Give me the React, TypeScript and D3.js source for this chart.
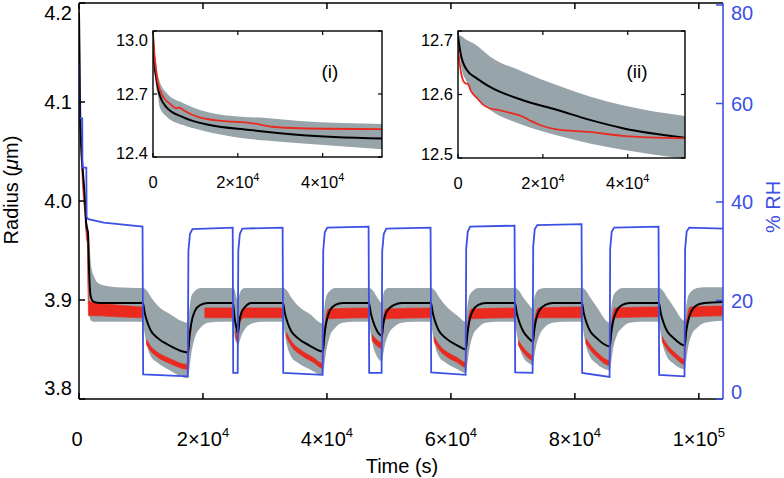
import React from "react";
import * as d3 from "d3";

// ---------- data ----------
// Time in s, radius in µm, RH in %
const rhTrace: [number, number][] = [
  [0, 68], [40, 68], [60, 57], [520, 57], [560, 47], [1180, 47], [1230, 37], [1500, 36.5], [4000, 35.8], [10250, 35],
  [10350, 5], [17550, 4.6],
  [17650, 30], [17900, 33.5], [18300, 34.5], [24800, 34.8],
  [24880, 5.3], [25600, 5.3],
  [25700, 30], [25950, 33.5], [26350, 34.6], [32850, 34.8],
  [32950, 5.3], [39300, 4.9],
  [39400, 30], [39650, 33.8], [40050, 34.8], [46720, 35],
  [46820, 5.3], [48820, 5.3],
  [48920, 30], [49170, 33.5], [49570, 34.6], [56720, 34.8],
  [56820, 5.4], [62370, 4.9],
  [62470, 30.5], [62720, 34], [63120, 35], [70270, 35.2],
  [70370, 5.4], [73180, 5.3],
  [73280, 31], [73530, 34.5], [73930, 35.3], [81080, 35.5],
  [81180, 5.3], [85600, 4.5],
  [85700, 30.5], [85950, 34], [86350, 34.8], [93500, 35],
  [93600, 4.9], [97690, 4.6],
  [97790, 30.5], [98040, 34], [98440, 34.8], [103900, 34.6],
];

const modelRadius: [number, number][] = [
  [0, 4.19], [80, 4.15], [160, 4.1], [400, 4.05], [650, 4.028], [970, 4.0], [1150, 3.978], [1300, 3.972], [1450, 3.968],
  [1600, 3.935], [1750, 3.912], [1950, 3.902], [2400, 3.898], [3400, 3.897], [10300, 3.897],
  [10600, 3.887], [11000, 3.878], [11600, 3.869], [12600, 3.862], [14600, 3.854], [17600, 3.847],
  [17800, 3.862], [18100, 3.876], [18700, 3.889], [19600, 3.895], [20800, 3.897], [24840, 3.897],
  [25100, 3.882], [25400, 3.872], [25650, 3.866], [25850, 3.878], [26200, 3.887], [26800, 3.893], [27800, 3.897], [32900, 3.897],
  [33200, 3.887], [33600, 3.878], [34200, 3.869], [35200, 3.862], [37200, 3.854], [39350, 3.848],
  [39550, 3.862], [39850, 3.876], [40450, 3.889], [41350, 3.895], [42550, 3.897], [46770, 3.897],
  [47070, 3.887], [47470, 3.878], [48070, 3.869], [48870, 3.864],
  [49070, 3.875], [49370, 3.884], [49970, 3.891], [50870, 3.895], [52070, 3.897], [56770, 3.897],
  [57070, 3.887], [57470, 3.878], [58070, 3.869], [59070, 3.862], [61070, 3.854], [62420, 3.85],
  [62620, 3.863], [62920, 3.877], [63520, 3.889], [64420, 3.895], [65620, 3.897], [70320, 3.897],
  [70620, 3.887], [71020, 3.878], [71620, 3.869], [72620, 3.861], [73230, 3.858],
  [73430, 3.869], [73730, 3.88], [74330, 3.89], [75230, 3.895], [76430, 3.897], [81130, 3.897],
  [81430, 3.887], [81830, 3.878], [82430, 3.869], [83430, 3.862], [85650, 3.853],
  [85850, 3.866], [86150, 3.878], [86750, 3.889], [87650, 3.895], [88850, 3.897], [93550, 3.897],
  [93850, 3.887], [94250, 3.878], [94850, 3.869], [95850, 3.862], [97740, 3.854],
  [97940, 3.867], [98240, 3.878], [98840, 3.889], [99740, 3.895], [100940, 3.897], [103900, 3.898],
];

// [time, lower, upper]
const modelBand: [number, number, number][] = [
  [0, 4.185, 4.195], [160, 4.095, 4.105], [400, 4.045, 4.055], [650, 4.02, 4.035], [970, 3.99, 4.005],
  [1150, 3.968, 3.985], [1300, 3.962, 3.978], [1450, 3.955, 3.975], [1600, 3.9, 3.965], [1750, 3.882, 3.95],
  [1950, 3.879, 3.935], [2400, 3.878, 3.924], [3400, 3.878, 3.916], [6000, 3.878, 3.913], [10300, 3.878, 3.912],
  [10600, 3.866, 3.9115], [11000, 3.853, 3.909], [11600, 3.843, 3.903], [12600, 3.837, 3.895], [14600, 3.829, 3.886], [17600, 3.821, 3.877],
  [17800, 3.83, 3.89], [18100, 3.845, 3.903], [18700, 3.862, 3.909], [19600, 3.872, 3.912], [20800, 3.877, 3.912], [22600, 3.878, 3.912], [24840, 3.878, 3.912],
  [25100, 3.863, 3.9105], [25400, 3.857, 3.903], [25650, 3.853, 3.899], [25850, 3.857, 3.905], [26200, 3.864, 3.91], [26800, 3.871, 3.912], [27800, 3.876, 3.912], [29500, 3.878, 3.912], [32900, 3.878, 3.912],
  [33200, 3.866, 3.9115], [33600, 3.853, 3.909], [34200, 3.843, 3.903], [35200, 3.837, 3.895], [37200, 3.83, 3.886], [39350, 3.824, 3.876],
  [39550, 3.833, 3.89], [39850, 3.847, 3.903], [40450, 3.863, 3.909], [41350, 3.872, 3.912], [42550, 3.877, 3.912], [44300, 3.878, 3.912], [46770, 3.878, 3.912],
  [47070, 3.866, 3.9115], [47470, 3.853, 3.909], [48070, 3.843, 3.903], [48870, 3.838, 3.897],
  [49070, 3.845, 3.905], [49370, 3.855, 3.91], [49970, 3.866, 3.912], [50870, 3.873, 3.912], [52070, 3.877, 3.912], [53800, 3.878, 3.912], [56770, 3.878, 3.912],
  [57070, 3.866, 3.9115], [57470, 3.853, 3.909], [58070, 3.843, 3.903], [59070, 3.837, 3.895], [61070, 3.83, 3.884], [62420, 3.826, 3.878],
  [62620, 3.834, 3.891], [62920, 3.848, 3.903], [63520, 3.864, 3.909], [64420, 3.872, 3.912], [65620, 3.877, 3.912], [67400, 3.878, 3.912], [70320, 3.878, 3.912],
  [70620, 3.866, 3.9115], [71020, 3.853, 3.909], [71620, 3.843, 3.903], [72620, 3.836, 3.895], [73230, 3.834, 3.891],
  [73430, 3.842, 3.901], [73730, 3.853, 3.907], [74330, 3.865, 3.911], [75230, 3.873, 3.912], [76430, 3.877, 3.912], [78200, 3.878, 3.912], [81130, 3.878, 3.912],
  [81430, 3.866, 3.9115], [81830, 3.853, 3.909], [82430, 3.843, 3.903], [83430, 3.836, 3.894], [85650, 3.829, 3.877],
  [85850, 3.837, 3.891], [86150, 3.85, 3.903], [86750, 3.864, 3.909], [87650, 3.872, 3.912], [88850, 3.877, 3.912], [90600, 3.878, 3.912], [93550, 3.878, 3.912],
  [93850, 3.866, 3.9115], [94250, 3.853, 3.909], [94850, 3.843, 3.903], [95850, 3.836, 3.894], [97740, 3.83, 3.879],
  [97940, 3.838, 3.892], [98240, 3.851, 3.903], [98840, 3.865, 3.909], [99740, 3.872, 3.912], [100940, 3.877, 3.913], [103900, 3.879, 3.913],
];

// measured radius, drawn as the spread of the noisy points: [time, low, high]; null = gap
const measuredBand: ([number, number, number] | null)[] = [
  [0, 4.182, 4.195], [160, 4.092, 4.1], [400, 4.038, 4.048], [650, 4.008, 4.018], [970, 3.984, 3.993], [1200, 3.962, 3.97],
  [1350, 3.956, 3.964], [1450, 3.912, 3.935], [1550, 3.884, 3.899], [3000, 3.884, 3.897], [6000, 3.883, 3.895], [10200, 3.882, 3.893],
  null,
  [10900, 3.855, 3.86], [11600, 3.848, 3.853], [12500, 3.843, 3.848], [14600, 3.836, 3.841], [17500, 3.83, 3.835],
  [17650, 3.842, 3.849], [17900, 3.861, 3.867], [18100, 3.869, 3.874],
  null,
  [20300, 3.882, 3.892], [24700, 3.882, 3.892],
  null,
  [25250, 3.863, 3.869], [25600, 3.857, 3.863], [25800, 3.869, 3.877], [26100, 3.879, 3.887], [26600, 3.882, 3.892], [32800, 3.882, 3.892],
  null,
  [33500, 3.862, 3.867], [34300, 3.853, 3.858], [35900, 3.844, 3.849], [37800, 3.837, 3.842], [39300, 3.831, 3.836],
  [39500, 3.851, 3.86], [39800, 3.871, 3.881], [40200, 3.881, 3.891], [46700, 3.882, 3.892],
  null,
  [47300, 3.859, 3.865], [48200, 3.853, 3.859], [48800, 3.851, 3.857],
  [49100, 3.871, 3.881], [49500, 3.881, 3.891], [56700, 3.882, 3.892],
  null,
  [57300, 3.858, 3.863], [58200, 3.849, 3.854], [59500, 3.842, 3.847], [61000, 3.837, 3.842], [62350, 3.832, 3.837],
  [62550, 3.853, 3.862], [62850, 3.873, 3.882], [63300, 3.881, 3.891], [70250, 3.882, 3.892],
  null,
  [70900, 3.854, 3.859], [71800, 3.846, 3.851], [72600, 3.841, 3.846], [73150, 3.839, 3.844],
  [73350, 3.859, 3.868], [73650, 3.876, 3.885], [74100, 3.882, 3.892], [81050, 3.882, 3.893],
  null,
  [81800, 3.856, 3.861], [82700, 3.848, 3.853], [83800, 3.841, 3.846], [85550, 3.834, 3.839],
  [85750, 3.854, 3.863], [86050, 3.874, 3.883], [86500, 3.882, 3.892], [93450, 3.883, 3.893],
  null,
  [94100, 3.858, 3.863], [95000, 3.849, 3.854], [96300, 3.841, 3.846], [97650, 3.835, 3.84],
  [97850, 3.856, 3.865], [98150, 3.875, 3.884], [98600, 3.883, 3.893], [103800, 3.884, 3.894],
];

// Inset (i)
const insetOneModel: [number, number][] = [
  [0, 12.98], [350, 12.84], [780, 12.775], [1570, 12.695], [3140, 12.638], [7060, 12.59],
  [13400, 12.552], [22800, 12.529], [34600, 12.505], [54000, 12.488],
];
const insetOneMeasured: [number, number][] = [
  [0, 12.97], [470, 12.86], [1200, 12.75], [2300, 12.69], [3900, 12.655], [5600, 12.632], [6300, 12.635],
  [7100, 12.624], [11060, 12.588], [18800, 12.568], [22700, 12.563], [28240, 12.544], [34600, 12.537], [54000, 12.533],
];
const insetOneBand: [number, number, number][] = [
  [0, 12.98, 12.98], [470, 12.782, 12.89], [1250, 12.68, 12.782], [1570, 12.638, 12.76], [3220, 12.592, 12.705],
  [7060, 12.552, 12.657], [11060, 12.529, 12.624], [18800, 12.497, 12.595], [26670, 12.478, 12.586],
  [34600, 12.465, 12.571], [54000, 12.437, 12.557],
];

// Inset (ii)
const insetTwoModel: [number, number][] = [
  [0, 12.692], [600, 12.665], [2040, 12.639], [4500, 12.625], [7530, 12.612], [15300, 12.591],
  [23220, 12.576], [31060, 12.56], [38830, 12.547], [53500, 12.532],
];
const insetTwoMeasured: [number, number][] = [
  [0, 12.672], [700, 12.635], [1600, 12.618], [2400, 12.616], [3000, 12.606], [4400, 12.595], [5900, 12.584],
  [7530, 12.578], [9100, 12.576], [12300, 12.571], [15300, 12.565], [17300, 12.558], [19300, 12.552],
  [23200, 12.545], [31000, 12.541], [38800, 12.535], [53500, 12.531],
];
const insetTwoBand: [number, number, number][] = [
  [0, 12.69, 12.695], [800, 12.642, 12.692], [2040, 12.62, 12.686], [3530, 12.6, 12.681], [4400, 12.594, 12.677],
  [7530, 12.576, 12.66], [15300, 12.552, 12.636], [23220, 12.536, 12.615], [31060, 12.523, 12.597],
  [38830, 12.513, 12.583], [53500, 12.499, 12.566],
];

// Ticks
const timeTicks = [0, 20000, 40000, 60000, 80000, 100000];
const timeTickBase = ["0", "2×10", "4×10", "6×10", "8×10", "1×10"];
const timeTickExp = ["", "4", "4", "4", "4", "5"];
const radiusTicks = [3.8, 3.9, 4.0, 4.1, 4.2];
const rhTicks = [0, 20, 40, 60, 80];
const insetTimeTicks = [0, 20000, 40000];
const insetTimeBase = ["0", "2×10", "4×10"];
const insetTimeExp = ["", "4", "4"];
const insetOneTicks = [12.4, 12.7, 13.0];
const insetTwoTicks = [12.5, 12.6, 12.7];

// ---------- styles ----------
const FONT = "'Liberation Sans', Arial, Helvetica, sans-serif";
const BLUE = "#3d50e4";
const RED = "#ea2a1f";
const GRAY = "#97a5aa";

type InsetProps = {
  x0: number; x1: number; yTop: number; yBot: number; tMax: number; rDomain: [number, number];
  yTicks: number[]; model: [number, number][]; measured: [number, number][]; band: [number, number, number][];
  tag: string; tagX: number; id: string;
};

function Inset(p: InsetProps) {
  const sx = d3.scaleLinear().domain([0, p.tMax]).range([p.x0, p.x1]);
  const sy = d3.scaleLinear().domain(p.rDomain).range([p.yBot, p.yTop]);
  const area = d3.area<[number, number, number]>().x((d) => sx(d[0])).y0((d) => sy(d[1])).y1((d) => sy(d[2])).curve(d3.curveMonotoneX);
  const line = d3.line<[number, number]>().x((d) => sx(d[0])).y((d) => sy(d[1])).curve(d3.curveMonotoneX);
  return (
    <g>
      <rect x={p.x0} y={p.yTop} width={p.x1 - p.x0} height={p.yBot - p.yTop} fill="#fff" />
      <clipPath id={p.id}>
        <rect x={p.x0} y={p.yTop} width={p.x1 - p.x0} height={p.yBot - p.yTop} />
      </clipPath>
      <g clipPath={`url(#${p.id})`}>
        <path d={area(p.band) || ""} fill={GRAY} />
        <path d={line(p.model) || ""} fill="none" stroke="#000" strokeWidth={2} />
        <path d={line(p.measured) || ""} fill="none" stroke={RED} strokeWidth={1.8} />
      </g>
      <rect x={p.x0} y={p.yTop} width={p.x1 - p.x0} height={p.yBot - p.yTop} fill="none" stroke="#000" strokeWidth={1.4} />
      {insetTimeTicks.map((t, i) => (
        <g key={"xt" + i}>
          <line x1={sx(t)} x2={sx(t)} y1={p.yBot} y2={p.yBot - 4} stroke="#000" strokeWidth={1.2} />
          <line x1={sx(t)} x2={sx(t)} y1={p.yTop} y2={p.yTop + 4} stroke="#000" strokeWidth={1.2} />
          <text x={sx(t)} y={p.yBot + 31} textAnchor="middle" fontSize={16.5} fontFamily={FONT}>
            {insetTimeBase[i]}
            {insetTimeExp[i] && <tspan dy={-7} fontSize={11}>{insetTimeExp[i]}</tspan>}
          </text>
        </g>
      ))}
      {p.yTicks.map((v, i) => (
        <g key={"yt" + i}>
          <line x1={p.x0} x2={p.x0 + 4} y1={sy(v)} y2={sy(v)} stroke="#000" strokeWidth={1.2} />
          <line x1={p.x1} x2={p.x1 - 4} y1={sy(v)} y2={sy(v)} stroke="#000" strokeWidth={1.2} />
          <text x={p.x0 - 5} y={Math.min(Math.max(sy(v), p.yTop + 9), p.yBot - 4)} dy="0.35em" textAnchor="end" fontSize={16.5} fontFamily={FONT}>
            {v.toFixed(1)}
          </text>
        </g>
      ))}
      <text x={p.tagX} y={p.yTop + 47} textAnchor="middle" fontSize={19} fontFamily={FONT}>{p.tag}</text>
    </g>
  );
}

export default function App() {
  const L = 79, R = 723, T = 3, B = 399;
  const x = d3.scaleLinear().domain([0, 103900]).range([L, R]);
  const yR = d3.scaleLinear().domain([3.8, 4.2]).range([B, T]);
  const yH = d3.scaleLinear().domain([0, 80]).range([B, 5]);

  const bandArea = d3.area<[number, number, number]>().x((d) => x(d[0])).y0((d) => yR(d[1])).y1((d) => yR(d[2])).curve(d3.curveMonotoneX);
  const measArea = d3.area<[number, number, number] | null>()
    .defined((d) => d !== null)
    .x((d) => x((d as any)[0]))
    .y0((d) => yR((d as any)[1]))
    .y1((d) => yR((d as any)[2]))
    .curve(d3.curveMonotoneX);
  const modelLine = d3.line<[number, number]>().x((d) => x(d[0])).y((d) => yR(d[1])).curve(d3.curveMonotoneX);
  const rhLine = d3.line<[number, number]>().x((d) => x(d[0])).y((d) => yH(d[1]));

  return (
    <svg width={784} height={478} style={{ position: "absolute", left: 0, top: 0, background: "#fff" }}>
      <rect x={0} y={0} width={784} height={478} fill="#fff" />
      <clipPath id="mainclip">
        <rect x={L} y={T} width={R - L} height={B - T} />
      </clipPath>
      <g clipPath="url(#mainclip)">
        <path d={bandArea(modelBand) || ""} fill={GRAY} />
        <path d={measArea(measuredBand) || ""} fill={RED} stroke={RED} strokeWidth={0.6} />
        <path d={modelLine(modelRadius) || ""} fill="none" stroke="#000" strokeWidth={2} />
        <path d={rhLine(rhTrace) || ""} fill="none" stroke={BLUE} strokeWidth={1.8} />
      </g>

      {/* frame */}
      <line x1={L} x2={R} y1={T} y2={T} stroke="#000" strokeWidth={1.5} />
      <line x1={L} x2={R} y1={B} y2={B} stroke="#000" strokeWidth={1.5} />
      <line x1={L} x2={L} y1={T} y2={B} stroke="#000" strokeWidth={1.5} />
      <line x1={R} x2={R} y1={T} y2={B} stroke={BLUE} strokeWidth={1.6} />

      {timeTicks.map((t, i) => (
        <g key={"t" + i}>
          <line x1={x(t)} x2={x(t)} y1={B} y2={B - 6} stroke="#000" strokeWidth={1.5} />
          <line x1={x(t)} x2={x(t)} y1={T} y2={T + 6} stroke="#000" strokeWidth={1.5} />
          <text x={x(t) + (i === 0 ? -2 : 0)} y={446} textAnchor="middle" fontSize={20} fontFamily={FONT}>
            {timeTickBase[i]}
            {timeTickExp[i] && <tspan dy={-9} fontSize={13}>{timeTickExp[i]}</tspan>}
          </text>
        </g>
      ))}
      {radiusTicks.map((v, i) => (
        <g key={"r" + i}>
          <line x1={L} x2={L + 6} y1={yR(v)} y2={yR(v)} stroke="#000" strokeWidth={1.5} />
          <text x={72} y={Math.min(Math.max(yR(v), 13), 388)} dy="0.36em" textAnchor="end" fontSize={20} fontFamily={FONT}>
            {v.toFixed(1)}
          </text>
        </g>
      ))}
      {rhTicks.map((v, i) => (
        <g key={"h" + i}>
          <line x1={R} x2={R - 7} y1={yH(v)} y2={yH(v)} stroke={BLUE} strokeWidth={1.5} />
          <text x={731} y={Math.min(Math.max(yH(v), 13), 392)} dy="0.36em" textAnchor="start" fontSize={20} fontFamily={FONT} fill={BLUE}>
            {v}
          </text>
        </g>
      ))}

      <text x={402} y={473} textAnchor="middle" fontSize={20} fontFamily={FONT}>Time (s)</text>
      <text transform="translate(18,190) rotate(-90)" textAnchor="middle" fontSize={20} fontFamily={FONT}>
        Radius (<tspan fontStyle="italic">μ</tspan>m)
      </text>
      <text transform="translate(780,207) rotate(-90)" textAnchor="middle" fontSize={20} fontFamily={FONT} fill={BLUE}>% RH</text>

      <Inset x0={153} x1={382} yTop={31} yBot={157} tMax={54000} rDomain={[12.4, 13.0]} yTicks={insetOneTicks}
        model={insetOneModel} measured={insetOneMeasured} band={insetOneBand} tag="(i)" tagX={330} id="in1" />
      <Inset x0={458} x1={685} yTop={31} yBot={158} tMax={53500} rDomain={[12.5, 12.7]} yTicks={insetTwoTicks}
        model={insetTwoModel} measured={insetTwoMeasured} band={insetTwoBand} tag="(ii)" tagX={637} id="in2" />
    </svg>
  );
}
